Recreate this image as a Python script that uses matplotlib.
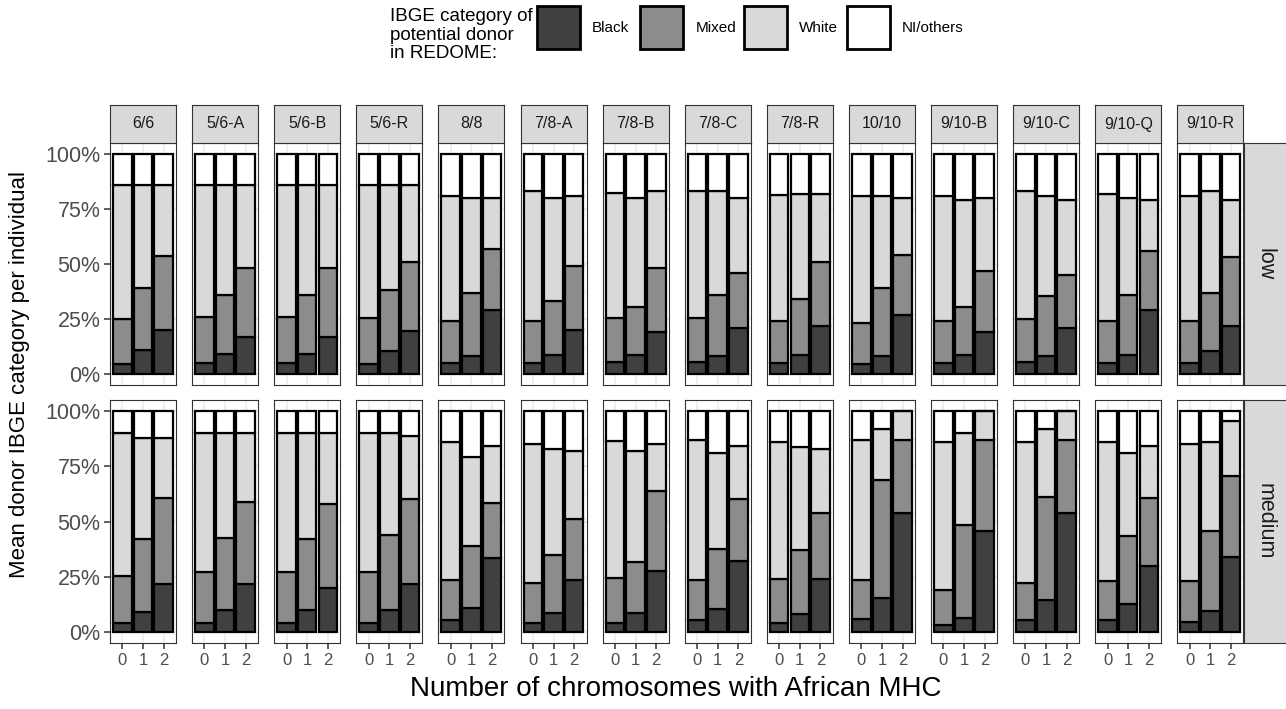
import matplotlib
matplotlib.use("Agg")
import matplotlib.pyplot as plt
from matplotlib.patches import Rectangle
import numpy as np

plt.rcParams['font.family'] = ['Liberation Sans', 'DejaVu Sans']

# facets
matchTypes = ["6/6", "5/6-A", "5/6-B", "5/6-R", "8/8", "7/8-A", "7/8-B",
              "7/8-C", "7/8-R", "10/10", "9/10-B", "9/10-C", "9/10-Q", "9/10-R"]
levels = ["low", "medium"]
chromosomes = ["0", "1", "2"]
categories = ["Black", "Mixed", "White", "NI/others"]
colors = ["#404040", "#8c8c8c", "#d9d9d9", "#ffffff"]

# mean share (%) per individual, one row per facet, one value per chromosome count
black_low = [[4.5, 11, 20], [5, 9, 17], [5, 9, 17], [4.5, 10.5, 19.5], [5, 8, 29],
             [5, 8.5, 20], [5.5, 8.5, 19], [5.5, 8, 21], [5, 8.5, 22], [4.5, 8, 27],
             [5, 8.5, 19], [5.5, 8, 21], [5, 8.5, 29], [5, 10.5, 22]]
mixed_low = [[20.5, 28, 33.5], [21, 27, 31], [21, 27, 31], [21, 27.5, 31.5], [19, 29, 28],
             [19, 24.5, 29], [20, 22, 29], [20, 28, 25], [19, 25.5, 29], [18.5, 31, 27],
             [19, 22, 28], [19.5, 27.5, 24], [19, 27.5, 27], [19, 26.5, 31]]
white_low = [[61, 47, 32.5], [60, 50, 38], [60, 50, 38], [60.5, 48, 35], [57, 43, 23],
             [59, 47, 32], [57, 49.5, 35], [57.5, 47, 34], [57.5, 48, 31], [58, 42, 26],
             [57, 48.5, 33], [58, 45.5, 34], [58, 44, 23], [57, 46, 26]]
ni_low = [[14, 14, 14], [14, 14, 14], [14, 14, 14], [14, 14, 14], [19, 20, 20],
          [17, 20, 19], [17.5, 20, 17], [17, 17, 20], [18.5, 18, 18], [19, 19, 20],
          [19, 21, 20], [17, 19, 21], [18, 20, 21], [19, 17, 21]]

black_medium = [[4, 9, 21.5], [4, 10, 21.5], [4, 10, 20], [4, 10, 21.5], [5.5, 11, 33.5],
                [4, 8.5, 23.5], [4, 8.5, 27.5], [5.5, 10.5, 32], [4, 8, 24], [6, 15.5, 54],
                [3, 6.5, 45.5], [5.5, 14.5, 54], [5.5, 12.5, 30], [4.5, 9.5, 34]]
mixed_medium = [[21.5, 33, 39], [23, 32.5, 37.5], [23, 32, 38], [23, 34, 38.5], [18, 28, 25],
                [18, 26.5, 27.5], [20.5, 23, 36.5], [18, 27, 28], [20, 29, 30], [17.5, 53.5, 33],
                [16, 42, 41.5], [16.5, 46.5, 33], [17.5, 31, 30.5], [18.5, 36, 36.5]]
white_medium = [[64.5, 46, 27.5], [63, 47.5, 31], [63, 48, 32], [63, 46, 28.5], [62.5, 40, 25.5],
                [63, 48, 31], [62, 50.5, 21], [63.5, 43.5, 24], [62, 46.5, 29], [63.5, 23, 13],
                [67, 41.5, 13], [64, 31, 13], [63, 37.5, 23.5], [62, 40.5, 25]]
ni_medium = [[10, 12, 12], [10, 10, 10], [10, 10, 10], [10, 10, 11.5], [14, 21, 16],
             [15, 17, 18], [13.5, 18, 15], [13, 19, 16], [14, 16.5, 17], [13, 8, 0],
             [14, 10, 0], [14, 8, 0], [14, 19, 16], [15, 14, 4.5]]

shares = {
    "low": [black_low, mixed_low, white_low, ni_low],
    "medium": [black_medium, mixed_medium, white_medium, ni_medium],
}

W, H = 1286, 709


def box(x, y, w, h):
    # pixel box (top-left origin) -> figure fraction
    return [x / W, 1 - (y + h) / H, w / W, h / H]


def greySpines(ax):
    for s in ax.spines.values():
        s.set_color("#333333")
        s.set_linewidth(0.8)


fig = plt.figure(figsize=(W / 100, H / 100), dpi=100)
fig.patch.set_facecolor("white")

panelLeft = 110
panelPitch = 82.1
panelW = 66
rowTop = [143, 400]
rowH = [242, 243]
x = np.arange(1, len(chromosomes) + 1)

for r, level in enumerate(levels):
    for c, name in enumerate(matchTypes):
        left = panelLeft + c * panelPitch
        ax = fig.add_axes(box(left, rowTop[r], panelW, rowH[r]))
        ax.set_facecolor("white")
        ax.set_axisbelow(True)
        ax.set_yticks(np.arange(0.125, 1.0, 0.25), minor=True)
        ax.grid(which="major", color="#ebebeb", linewidth=1.1)
        ax.grid(which="minor", axis="y", color="#ebebeb", linewidth=0.5)

        bottom = np.zeros(len(chromosomes))
        for k in range(len(categories)):
            vals = np.array(shares[level][k][c]) / 100.0
            ax.bar(x, vals, bottom=bottom, width=0.9, color=colors[k],
                   edgecolor="black", linewidth=1.6)
            bottom = bottom + vals

        ax.set_xlim(0.4, 3.6)
        ax.set_ylim(-0.05, 1.05)
        ax.set_xticks(x)
        ax.set_yticks([0, 0.25, 0.5, 0.75, 1.0])
        greySpines(ax)

        ax.tick_params(axis="both", which="minor", length=0)
        ax.tick_params(axis="x", length=4, width=1.1, color="#333333",
                       labelsize=12, labelcolor="#4d4d4d", pad=3)
        ax.tick_params(axis="y", length=4, width=1.1, color="#333333",
                       labelsize=15.5, labelcolor="#4d4d4d", pad=3)
        if r == len(levels) - 1:
            ax.set_xticklabels(chromosomes)
        else:
            ax.tick_params(axis="x", length=0, labelbottom=False)
        if c == 0:
            ax.set_yticklabels(["0%", "25%", "50%", "75%", "100%"])
        else:
            ax.tick_params(axis="y", length=0, labelleft=False)

        # column strip
        if r == 0:
            sx = fig.add_axes(box(left, 105, panelW, 38))
            sx.set_facecolor("#d9d9d9")
            sx.set_xticks([])
            sx.set_yticks([])
            greySpines(sx)
            sx.text(0.5, 0.5, name, ha="center", va="center", fontsize=11.5,
                    color="#1a1a1a", transform=sx.transAxes)

    # row strip
    rx = fig.add_axes(box(1244, rowTop[r], 46, rowH[r]))
    rx.set_facecolor("#d9d9d9")
    rx.set_xticks([])
    rx.set_yticks([])
    greySpines(rx)
    rx.text(0.45, 0.5, level, ha="center", va="center", rotation=-90,
            fontsize=15.5, color="#1a1a1a", transform=rx.transAxes)

# axis titles
fig.text(676 / W, 1 - 689 / H, "Number of chromosomes with African MHC",
         ha="center", va="center", fontsize=20)
fig.text(20 / W, 1 - 375 / H, "Mean donor IBGE category per individual",
         ha="center", va="center", rotation=90, fontsize=16)

# legend
fig.text(390 / W, 1 - 35 / H, "IBGE category of\npotential donor\nin REDOME:",
         ha="left", va="center", fontsize=13.5, linespacing=1.08)
keyX = 537
keyPitch = 103.4
for k, cat in enumerate(categories):
    kx = keyX + k * keyPitch
    fig.patches.append(Rectangle((kx / W, 1 - 49 / H), 43 / W, 43 / H,
                                 transform=fig.transFigure, facecolor=colors[k],
                                 edgecolor="black", linewidth=2.0))
    fig.text((kx + 55) / W, 1 - 28 / H, cat, ha="left", va="center", fontsize=11)

fig.savefig("out.png", dpi=100)
